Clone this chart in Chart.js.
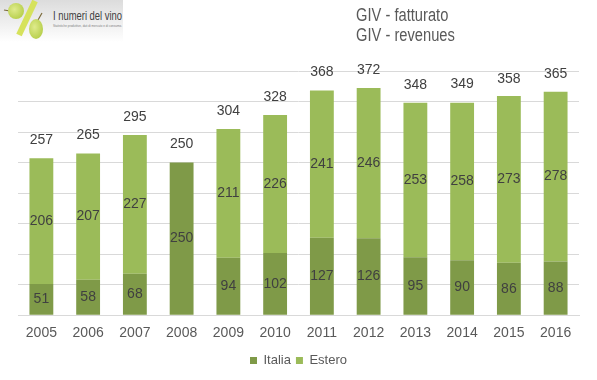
<!DOCTYPE html>
<html>
<head>
<meta charset="utf-8">
<script src="https://cdn.jsdelivr.net/npm/chart.js@4"></script>
<style>
html, body { margin: 0; padding: 0; background: #fff; }
#wrap { position: relative; width: 597px; height: 380px; overflow: hidden; }
#logo { position: absolute; left: 0; top: 0; }
#titolo { position: absolute; left: 356px; top: 6px; font: 17.5px/19.5px "Liberation Sans", sans-serif; color: #595959; transform: scaleX(0.84); transform-origin: left top; white-space: nowrap; }
</style>
</head>
<body>
<div id="wrap">
  <canvas id="chartGiv" width="597" height="380"></canvas>
  <svg id="logo" width="124" height="42" viewBox="0 0 124 42">
    <defs>
      <linearGradient id="sfondo" x1="0" y1="0" x2="0" y2="1">
        <stop offset="0" stop-color="#dcdcdc"/>
        <stop offset="1" stop-color="#ffffff"/>
      </linearGradient>
      <radialGradient id="acino" cx="0.4" cy="0.4" r="0.7">
        <stop offset="0" stop-color="#dfeb8c"/>
        <stop offset="1" stop-color="#b3cc45"/>
      </radialGradient>
    </defs>
    <rect width="123" height="42" fill="url(#sfondo)"/>
    <line x1="35" y1="1" x2="19" y2="35" stroke="#d6e25c" stroke-width="6"/>
    <path d="M4 10 L10 11" stroke="#7a6a3a" stroke-width="1.2"/>
    <ellipse cx="16" cy="11" rx="8" ry="8" fill="url(#acino)"/>
    <path d="M42 13 L38 20" stroke="#7a6a3a" stroke-width="1.2"/>
    <ellipse cx="36" cy="29" rx="7" ry="10" fill="url(#acino)"/>
    <text x="53" y="20" font-family="Liberation Sans" font-size="13" fill="#404040" textLength="69" lengthAdjust="spacingAndGlyphs">I numeri del vino</text>
    <text x="53" y="27" font-family="Liberation Sans" font-size="3.6" fill="#808080" textLength="69" lengthAdjust="spacingAndGlyphs">Statistiche produttive, dati di mercato e di consumo.</text>
  </svg>
  <div id="titolo">GIV - fatturato<br>GIV - revenues</div>
</div>
<script>
var anni = ['2005', '2006', '2007', '2008', '2009', '2010', '2011', '2012', '2013', '2014', '2015', '2016'];
var italia = [51, 58, 68, 250, 94, 102, 127, 126, 95, 90, 86, 88];
var estero = [206, 207, 227, null, 211, 226, 241, 246, 253, 258, 273, 278];
var totali = [257, 265, 295, 250, 304, 328, 368, 372, 348, 349, 358, 365];

// etichette dentro le barre e totale sopra ogni colonna
const etichette = {
    id: 'etichette',
    afterDatasetsDraw(chart) {
        const ctx = chart.ctx;
        ctx.save();
        ctx.font = '14px "Liberation Sans"';
        ctx.fillStyle = '#404040';
        ctx.textAlign = 'center';
        ctx.textBaseline = 'middle';
        chart.data.datasets.forEach((ds, i) => {
            chart.getDatasetMeta(i).data.forEach((bar, j) => {
                if (ds.data[j] == null) return;
                ctx.fillText(ds.data[j], bar.x, (bar.y + bar.base) / 2);
            });
        });
        const top = chart.getDatasetMeta(0).data;
        totali.forEach((t, j) => {
            ctx.fillText(t, top[j].x, chart.scales.y.getPixelForValue(t) - 18);
        });
        ctx.restore();
    }
};

const ctx = document.getElementById('chartGiv').getContext('2d');

const chart = new Chart(ctx, {
    type: 'bar',
    data: {
        labels: anni,
        datasets: [
            {
                label: 'Italia',
                data: italia,
                backgroundColor: '#7f9a48',
                barPercentage: 0.51,
                categoryPercentage: 1,
            },
            {
                label: 'Estero',
                data: estero,
                backgroundColor: '#9bbb59',
                barPercentage: 0.51,
                categoryPercentage: 1,
            },
        ]
    },
    options: {
        responsive: false,
        animation: false,
        layout: { padding: { left: 18, right: 18, top: 71, bottom: 3 } },
        plugins: {
            tooltip: { enabled: false },
            legend: {
                position: 'bottom',
                labels: {
                    boxWidth: 7,
                    boxHeight: 7,
                    padding: 5,
                    color: '#595959',
                    font: { family: 'Liberation Sans', size: 13 },
                }
            }
        },
        scales: {
            x: {
                stacked: true,
                grid: { display: false },
                border: { color: '#d9d9d9' },
                afterFit: (scale) => { scale.height += 5 },
                ticks: { color: '#595959', padding: 2, maxRotation: 0, autoSkip: false, font: { family: 'Liberation Sans', size: 14 } }
            },
            y: {
                stacked: true,
                min: 0,
                max: 400,
                grid: { color: '#d9d9d9', drawTicks: false },
                border: { display: false },
                ticks: { stepSize: 50, display: false }
            }
        }
    },
    plugins: [etichette]
});
</script>
</body>
</html>
